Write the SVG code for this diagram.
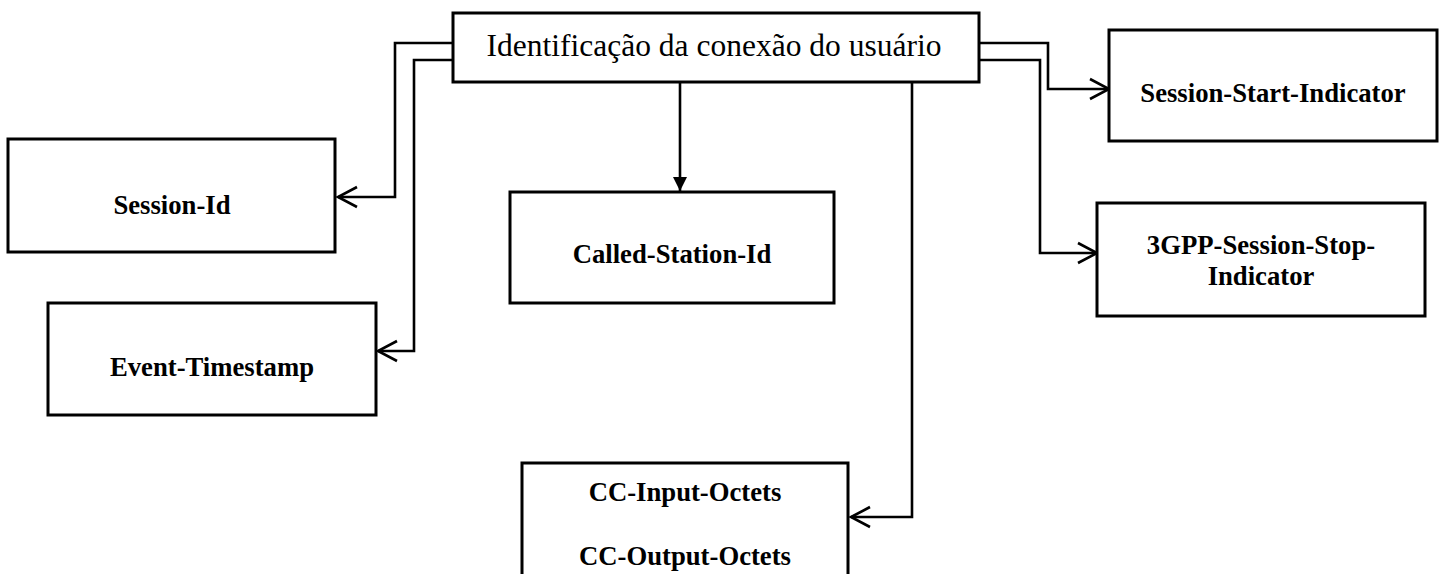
<svg xmlns="http://www.w3.org/2000/svg" width="1443" height="574" viewBox="0 0 1443 574">
  <style>
    .box { fill: #ffffff; stroke: #000000; stroke-width: 3; }
    .lbl { font-family: "Liberation Serif", "Times New Roman", serif; font-weight: bold; font-size: 26.7px; fill: #000000; text-anchor: middle; }
    .title { font-family: "Liberation Serif", "Times New Roman", serif; font-size: 31.5px; fill: #000000; text-anchor: middle; }
    .wire { fill: none; stroke: #000000; stroke-width: 2.6; stroke-linejoin: miter; }
  </style>
  <defs>
    <!-- open chevron head -->
    <marker id="open" markerUnits="userSpaceOnUse" markerWidth="24" markerHeight="24" viewBox="-2 -2 24 24" refX="19" refY="10" orient="auto" overflow="visible">
      <path d="M0,0 L19,10 L0,20" fill="none" stroke="#000000" stroke-width="2.6"/>
    </marker>
    <!-- solid triangle head -->
    <marker id="solid" markerUnits="userSpaceOnUse" markerWidth="16" markerHeight="16" viewBox="0 0 16 16" refX="14" refY="7" orient="auto" overflow="visible">
      <path d="M0,0 L14,7 L0,14 Z" fill="#000000"/>
    </marker>
  </defs>

  <g id="connectors">
    <path class="wire" d="M453,43 H395 V197 H338" marker-end="url(#open)"/>
    <path class="wire" d="M453,60 H414 V351 H378" marker-end="url(#open)"/>
    <path class="wire" d="M680,82 V191" marker-end="url(#solid)"/>
    <path class="wire" d="M912,82 V517 H851" marker-end="url(#open)"/>
    <path class="wire" d="M979,43 H1048 V89 H1109" marker-end="url(#open)"/>
    <path class="wire" d="M979,60 H1040 V253 H1097" marker-end="url(#open)"/>
  </g>

  <g id="node-main">
    <rect class="box" x="453" y="13" width="526" height="69"/>
    <text class="title" x="714" y="56">Identificação da conexão do usuário</text>
  </g>

  <g id="node-session-id">
    <rect class="box" x="8" y="139" width="327" height="113"/>
    <text class="lbl" x="172" y="214">Session-Id</text>
  </g>

  <g id="node-event-timestamp">
    <rect class="box" x="48" y="303" width="328" height="112"/>
    <text class="lbl" x="212" y="376">Event-Timestamp</text>
  </g>

  <g id="node-called-station-id">
    <rect class="box" x="510" y="192" width="324" height="111"/>
    <text class="lbl" x="672" y="263">Called-Station-Id</text>
  </g>

  <g id="node-cc-octets">
    <rect class="box" x="522" y="463" width="326" height="130"/>
    <text class="lbl" x="685" y="501">CC-Input-Octets</text>
    <text class="lbl" x="685" y="565">CC-Output-Octets</text>
  </g>

  <g id="node-session-start">
    <rect class="box" x="1109" y="30" width="328" height="111"/>
    <text class="lbl" x="1273" y="102">Session-Start-Indicator</text>
  </g>

  <g id="node-session-stop">
    <rect class="box" x="1097" y="203" width="328" height="113"/>
    <text class="lbl" x="1261" y="254">3GPP-Session-Stop-</text>
    <text class="lbl" x="1261" y="285">Indicator</text>
  </g>
</svg>
